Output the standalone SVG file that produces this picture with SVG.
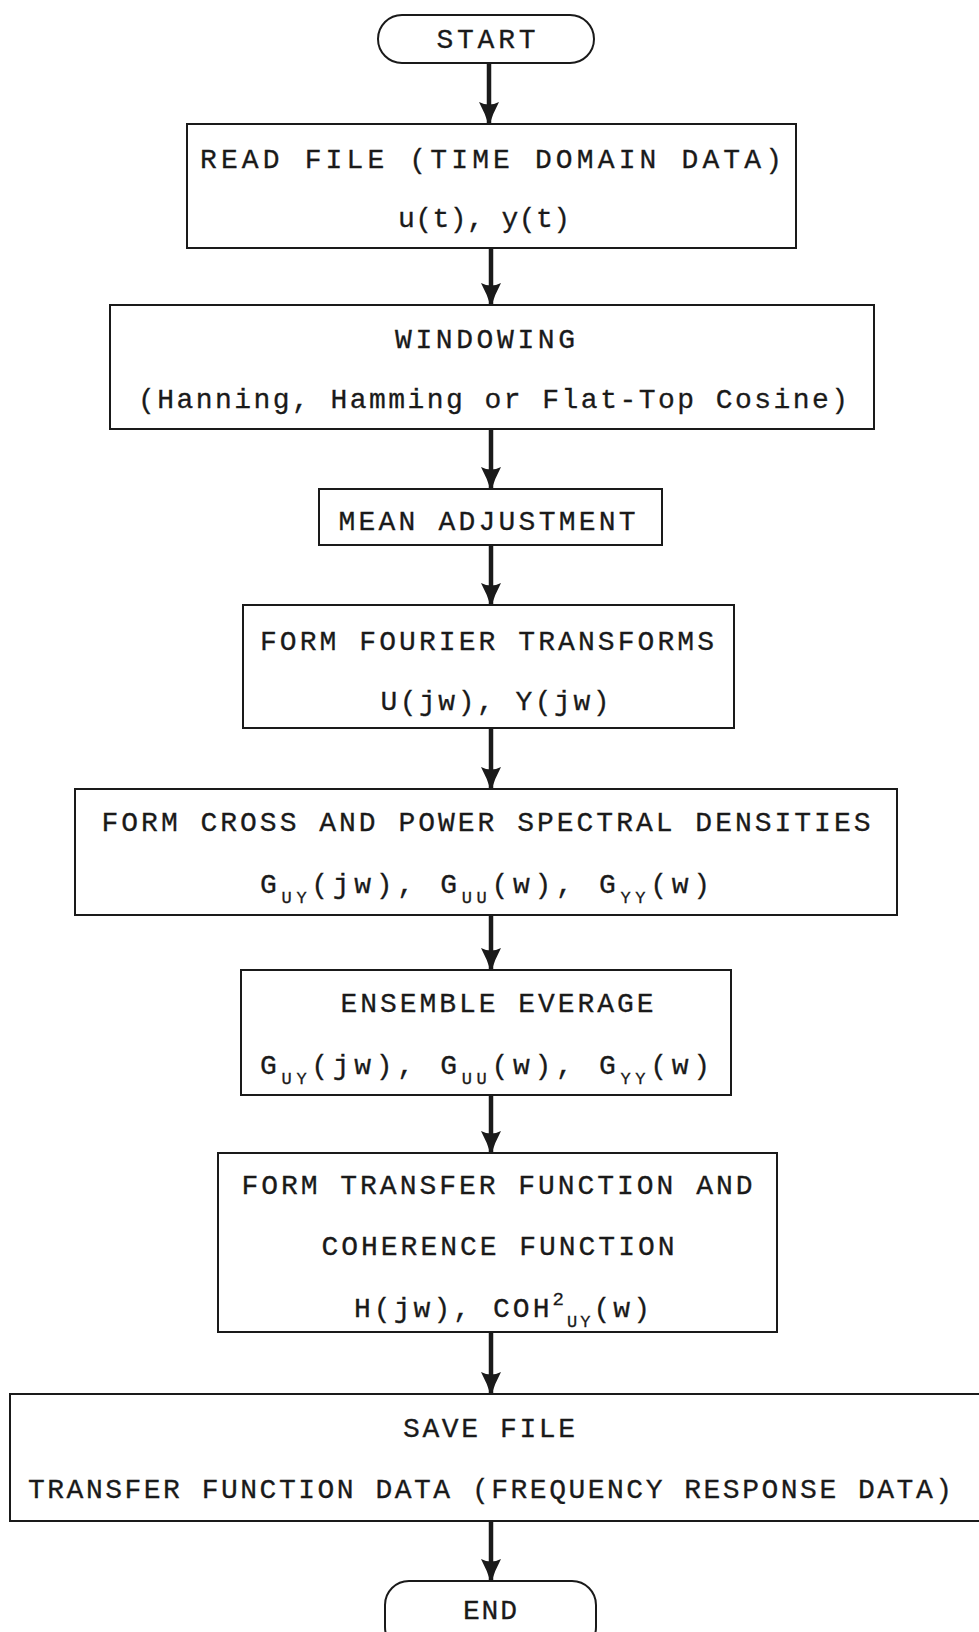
<svg xmlns="http://www.w3.org/2000/svg" width="979" height="1632" viewBox="0 0 979 1632">
  <defs>
    <style>
      .box { fill: #ffffff; stroke: #1a1a1a; stroke-width: 2; }
      .lbl { font-family: "Liberation Mono", "DejaVu Sans Mono", monospace; font-size: 28px; fill: #1a1a1a; stroke: #1a1a1a; stroke-width: 0.3; text-anchor: middle; }
      .sub { font-size: 17px; }
      .sup { font-size: 19px; }
      .flow { stroke: #1a1a1a; stroke-width: 4.5; fill: none; }
    </style>
    <marker id="head" viewBox="0 0 24 24" refX="22" refY="12" markerWidth="24" markerHeight="24" markerUnits="userSpaceOnUse" orient="auto">
      <path d="M0,2 Q11,8 24,12 Q11,16 0,22 Q5,12 0,2 Z" fill="#1a1a1a"/>
    </marker>
  </defs>
  <rect width="979" height="1632" fill="#ffffff"/>

  <g id="connectors">
    <line class="flow" x1="489" y1="63" x2="489" y2="124" marker-end="url(#head)"/>
    <line class="flow" x1="491" y1="248" x2="491" y2="305" marker-end="url(#head)"/>
    <line class="flow" x1="491" y1="429" x2="491" y2="489" marker-end="url(#head)"/>
    <line class="flow" x1="491" y1="545" x2="491" y2="605" marker-end="url(#head)"/>
    <line class="flow" x1="491" y1="728" x2="491" y2="789" marker-end="url(#head)"/>
    <line class="flow" x1="491" y1="915" x2="491" y2="970" marker-end="url(#head)"/>
    <line class="flow" x1="491" y1="1095" x2="491" y2="1153" marker-end="url(#head)"/>
    <line class="flow" x1="491" y1="1332" x2="491" y2="1394" marker-end="url(#head)"/>
    <line class="flow" x1="491" y1="1521" x2="491" y2="1581" marker-end="url(#head)"/>
  </g>

  <g id="start">
    <rect class="box" x="378" y="15" width="216" height="48" rx="24"/>
    <text class="lbl" x="486" y="48" textLength="99" lengthAdjust="spacing">START</text>
  </g>

  <g id="read-file">
    <rect class="box" x="187" y="124" width="609" height="124"/>
    <text class="lbl" x="491" y="168" textLength="582" lengthAdjust="spacing">READ FILE  (TIME DOMAIN DATA)</text>
    <text class="lbl" x="484" y="227" textLength="172" lengthAdjust="spacing">u(t), y(t)</text>
  </g>

  <g id="windowing">
    <rect class="box" x="110" y="305" width="764" height="124"/>
    <text class="lbl" x="485" y="348" textLength="180" lengthAdjust="spacing">WINDOWING</text>
    <text class="lbl" x="493" y="408" textLength="710" lengthAdjust="spacing">(Hanning, Hamming or Flat-Top Cosine)</text>
  </g>

  <g id="mean-adjustment">
    <rect class="box" x="319" y="489" width="343" height="56"/>
    <text class="lbl" x="487" y="530" textLength="297" lengthAdjust="spacing">MEAN ADJUSTMENT</text>
  </g>

  <g id="fourier">
    <rect class="box" x="243" y="605" width="491" height="123"/>
    <text class="lbl" x="487" y="650" textLength="454" lengthAdjust="spacing">FORM FOURIER TRANSFORMS</text>
    <text class="lbl" x="495" y="710" textLength="229" lengthAdjust="spacing">U(jw), Y(jw)</text>
  </g>

  <g id="spectral-densities">
    <rect class="box" x="75" y="789" width="822" height="126"/>
    <text class="lbl" x="486" y="831" textLength="769" lengthAdjust="spacing">FORM CROSS AND POWER SPECTRAL DENSITIES</text>
    <text class="lbl" x="485" y="893" textLength="450" lengthAdjust="spacing">G<tspan class="sub" dy="10">UY</tspan><tspan dy="-10">(jw), G</tspan><tspan class="sub" dy="10">UU</tspan><tspan dy="-10">(w), G</tspan><tspan class="sub" dy="10">YY</tspan><tspan dy="-10">(w)</tspan></text>
  </g>

  <g id="ensemble-average">
    <rect class="box" x="241" y="970" width="490" height="125"/>
    <text class="lbl" x="497" y="1012" textLength="313" lengthAdjust="spacing">ENSEMBLE EVERAGE</text>
    <text class="lbl" x="485" y="1074" textLength="450" lengthAdjust="spacing">G<tspan class="sub" dy="10">UY</tspan><tspan dy="-10">(jw), G</tspan><tspan class="sub" dy="10">UU</tspan><tspan dy="-10">(w), G</tspan><tspan class="sub" dy="10">YY</tspan><tspan dy="-10">(w)</tspan></text>
  </g>

  <g id="transfer-function">
    <rect class="box" x="218" y="1153" width="559" height="179"/>
    <text class="lbl" x="497" y="1194" textLength="511" lengthAdjust="spacing">FORM TRANSFER FUNCTION AND</text>
    <text class="lbl" x="498" y="1255" textLength="353" lengthAdjust="spacing">COHERENCE FUNCTION</text>
    <text class="lbl" x="502" y="1317" textLength="296" lengthAdjust="spacing">H(jw), COH<tspan class="sup" dy="-12">2</tspan><tspan class="sub" dy="22">UY</tspan><tspan dy="-10">(w)</tspan></text>
  </g>

  <g id="save-file">
    <rect class="box" x="10" y="1394" width="980" height="127"/>
    <text class="lbl" x="489" y="1437" textLength="172" lengthAdjust="spacing">SAVE FILE</text>
    <text class="lbl" x="490" y="1498" textLength="924" lengthAdjust="spacing">TRANSFER FUNCTION DATA (FREQUENCY RESPONSE DATA)</text>
  </g>

  <g id="end">
    <rect class="box" x="385" y="1581" width="211" height="70" rx="24"/>
    <text class="lbl" x="490" y="1619" textLength="54" lengthAdjust="spacing">END</text>
  </g>
</svg>
